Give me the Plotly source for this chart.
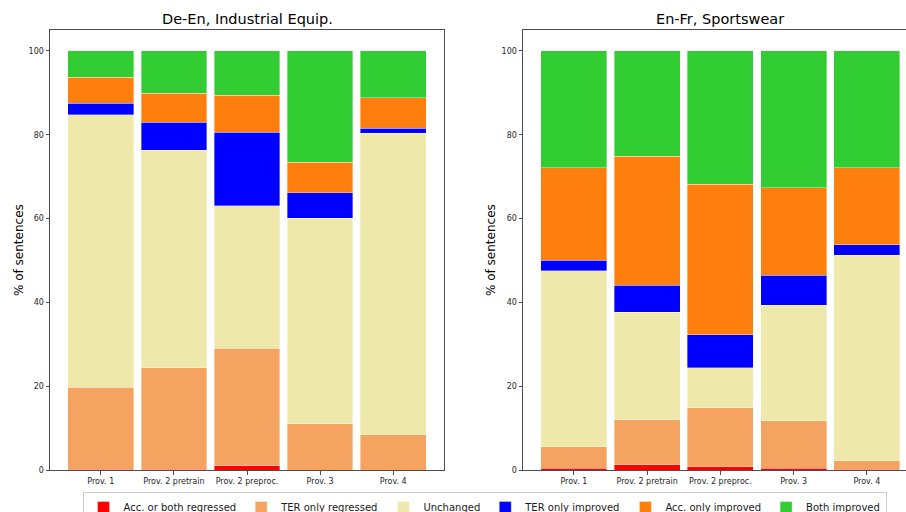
import plotly.graph_objects as go

# Providers compared in both language pairs
providers = ["Prov. 1", "Prov. 2 pretrain", "Prov. 2 preproc.", "Prov. 3", "Prov. 4"]

# Outcome categories (stack order, bottom to top) and their colours
outcomes = ["Acc. or both regressed", "TER only regressed", "Unchanged",
            "TER only improved", "Acc. only improved", "Both improved"]
outcome_colors = ["#ff0000", "#f4a460", "#eee8aa", "#0000ff", "#ff7f0e", "#32cd32"]

# De-En, Industrial Equip. : % of sentences per outcome, one list per outcome
deen_acc_regressed = [0.2, 0.2, 1.0, 0.0, 0.0]
deen_ter_regressed = [19.6, 24.2, 28.1, 11.0, 8.4]
deen_unchanged = [65.0, 51.9, 34.0, 49.1, 72.0]
deen_ter_improved = [2.7, 6.7, 17.5, 6.1, 1.2]
deen_acc_improved = [6.2, 6.9, 8.8, 7.2, 7.2]
deen_both_improved = [6.3, 10.1, 10.6, 26.6, 11.2]

# En-Fr, Sportswear : % of sentences per outcome
enfr_acc_regressed = [0.4, 1.2, 0.8, 0.4, 0.2]
enfr_ter_regressed = [5.2, 10.8, 14.1, 11.3, 2.0]
enfr_unchanged = [41.9, 25.6, 9.5, 27.6, 49.0]
enfr_ter_improved = [2.6, 6.5, 7.9, 7.2, 2.6]
enfr_acc_improved = [22.0, 30.8, 35.9, 20.9, 18.3]
enfr_both_improved = [27.9, 25.1, 31.8, 32.6, 27.9]

y_ticks = [0, 20, 40, 60, 80, 100]

panels = [
    ("De-En, Industrial Equip.", "x", "y",
     [deen_acc_regressed, deen_ter_regressed, deen_unchanged,
      deen_ter_improved, deen_acc_improved, deen_both_improved]),
    ("En-Fr, Sportswear", "x2", "y2",
     [enfr_acc_regressed, enfr_ter_regressed, enfr_unchanged,
      enfr_ter_improved, enfr_acc_improved, enfr_both_improved]),
]

W, H = 906, 512
FONT = "DejaVu Sans"
SPINE = "#4d4d4d"

fig = go.Figure()
for p, (title, xa, ya, series) in enumerate(panels):
    for name, color, vals in zip(outcomes, outcome_colors, series):
        fig.add_trace(go.Bar(
            x=list(range(len(providers))), y=vals, name=name,
            xaxis=xa, yaxis=ya,
            marker=dict(color=color, line=dict(color="rgba(255,255,255,0.6)", width=0.6)),
            legendgroup=name, showlegend=(p == 0),
        ))

px_x = lambda v: v / W
px_y = lambda v: 1 - v / H

common_x = dict(
    tickmode="array", tickvals=list(range(len(providers))), ticktext=providers,
    showline=True, linecolor=SPINE, linewidth=1, mirror=True,
    ticks="outside", ticklen=3.5, tickcolor=SPINE,
    tickfont=dict(size=8, color="#262626", family=FONT),
    showgrid=False, zeroline=False, fixedrange=True,
)
common_y = dict(
    range=[0, 105], tickmode="array", tickvals=y_ticks,
    showline=True, linecolor=SPINE, linewidth=1,
    ticks="outside", ticklen=3.5, tickcolor=SPINE,
    tickfont=dict(size=8, color="#262626", family=FONT),
    showgrid=False, zeroline=False, domain=[px_y(470), px_y(30)],
)

fig.update_layout(
    width=W, height=H,
    margin=dict(l=0, r=0, t=0, b=0, pad=0, autoexpand=False),
    paper_bgcolor="white", plot_bgcolor="white",
    barmode="stack", bargap=0.1,
    font=dict(family=FONT, color="#1a1a1a"),
    xaxis=dict(common_x, domain=[px_x(50), px_x(444)], range=[-0.695, 4.695], anchor="y"),
    yaxis=dict(common_y, anchor="x", mirror=True),
    xaxis2=dict(common_x, domain=[px_x(523), 1.0], range=[-0.695, 4.534], anchor="y2"),
    yaxis2=dict(common_y, anchor="x2", mirror=False),
    legend=dict(
        orientation="h", x=px_x(484.5), xanchor="center", y=px_y(492), yanchor="top",
        bordercolor="#cccccc", borderwidth=1, bgcolor="white",
        font=dict(size=10, family=FONT, color="#1a1a1a"),
        traceorder="normal", itemwidth=30,
    ),
    annotations=[
        dict(text="De-En, Industrial Equip.", x=px_x(247), y=px_y(19), xref="paper", yref="paper",
             xanchor="center", yanchor="middle", showarrow=False,
             font=dict(size=14.5, family=FONT, color="#000")),
        dict(text="En-Fr, Sportswear", x=px_x(720), y=px_y(19), xref="paper", yref="paper",
             xanchor="center", yanchor="middle", showarrow=False,
             font=dict(size=14.5, family=FONT, color="#000")),
        dict(text="% of sentences", x=px_x(19), y=px_y(250), xref="paper", yref="paper",
             xanchor="center", yanchor="middle", textangle=-90, showarrow=False,
             font=dict(size=12, family=FONT, color="#000")),
        dict(text="% of sentences", x=px_x(491), y=px_y(250), xref="paper", yref="paper",
             xanchor="center", yanchor="middle", textangle=-90, showarrow=False,
             font=dict(size=12, family=FONT, color="#000")),
    ],
)

fig.write_html("out.html")
